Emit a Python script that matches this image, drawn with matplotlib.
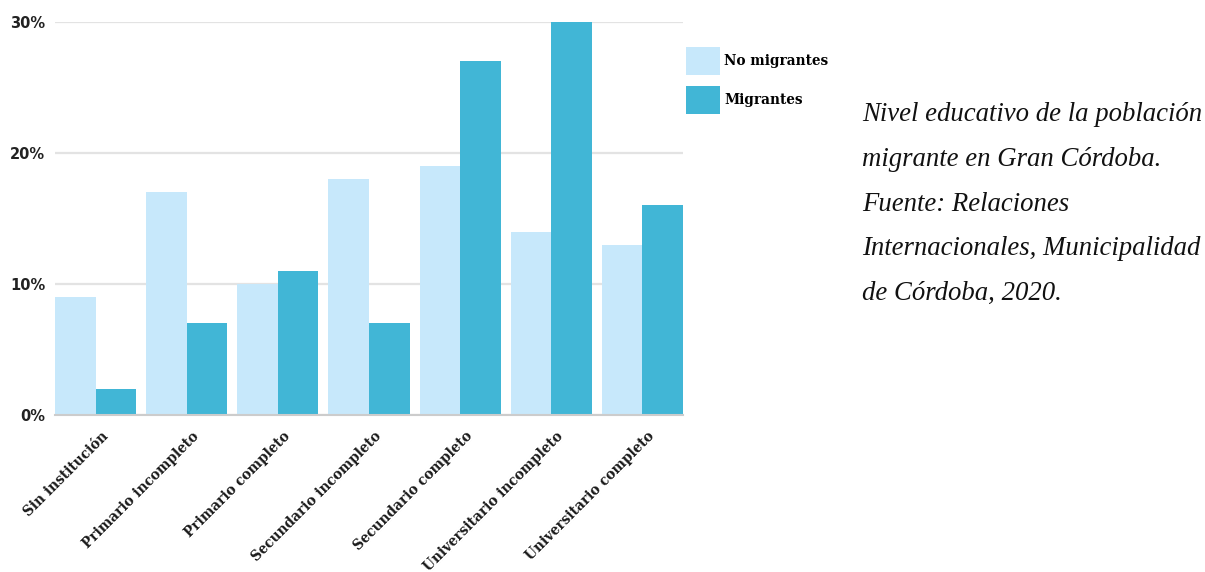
import matplotlib
matplotlib.use("Agg")
import matplotlib.pyplot as plt
import numpy as np
from matplotlib.ticker import FixedLocator
from matplotlib.transforms import ScaledTranslation

categories = ["Sin institución", "Primario incompleto", "Primario completo",
              "Secundario incompleto", "Secundario completo",
              "Universitario incompleto", "Universitario completo"]
no_migrantes = [9, 17, 10, 18, 19, 14, 13]
migrantes = [2, 7, 11, 7, 27, 30, 16]
yticks = [0, 10, 20, 30]
ytick_labels = ["0%", "10%", "20%", "30%"]
series_names = ["No migrantes", "Migrantes"]
caption = ("Nivel educativo de la población\nmigrante en Gran Córdoba.\n"
           "Fuente: Relaciones\nInternacionales, Municipalidad\nde Córdoba, 2020.")

c_light = "#C7E8FB"
c_dark = "#41B6D6"

fig = plt.figure(figsize=(12.05, 5.72), dpi=100)
ax = fig.add_axes([55/1205, 1-415/572, 628/1205, (415-22)/572])

x = np.arange(len(categories))
w = 0.44
b1 = ax.bar(x - w/2 - 0.005, no_migrantes, width=w, color=c_light, label=series_names[0], zorder=3)
b2 = ax.bar(x + w/2 + 0.005, migrantes, width=w, color=c_dark, label=series_names[1], zorder=3)

ax.set_xlim(-0.45, 6.45)
ax.set_ylim(0, 30)
ax.yaxis.set_major_locator(FixedLocator(yticks))
ax.set_yticklabels(ytick_labels, fontsize=10.5, fontweight="bold", color="#222222")
ax.tick_params(axis="y", length=0, pad=7)
ax.tick_params(axis="x", length=0)
for s in ["top", "right", "left"]:
    ax.spines[s].set_visible(False)
ax.spines["bottom"].set_color("#cccccc")
ax.spines["bottom"].set_linewidth(1.5)
ax.spines["bottom"].set_zorder(4)
ax.grid(axis="y", color="#e3e3e3", linewidth=1.6, zorder=0)
ax.set_axisbelow(True)

ax.set_xticks(x)
ax.set_xticklabels(categories, rotation=45, ha="right", rotation_mode="anchor",
                   fontsize=9.8, fontweight="bold", family="DejaVu Serif", color="#1a1a1a")
ax.tick_params(axis="x", pad=10)
shift = ScaledTranslation(5/100, 0, fig.dpi_scale_trans)
for lab in ax.get_xticklabels():
    lab.set_transform(lab.get_transform() + shift)

leg = fig.legend(handles=[b1, b2], labels=series_names,
                 loc="upper left", bbox_to_anchor=(676/1205, 1-37/572),
                 frameon=False, handlelength=2.5, handleheight=2.8,
                 labelspacing=0.8, handletextpad=0.35, borderpad=0.2,
                 prop={"family": "DejaVu Serif", "weight": "bold", "size": 9.8})

fig.text(862/1205, 1-102/572, caption, ha="left", va="top",
         family="Liberation Serif", style="italic", fontsize=19.3,
         linespacing=2.04, color="#111111")

fig.savefig("out.png", dpi=100)
